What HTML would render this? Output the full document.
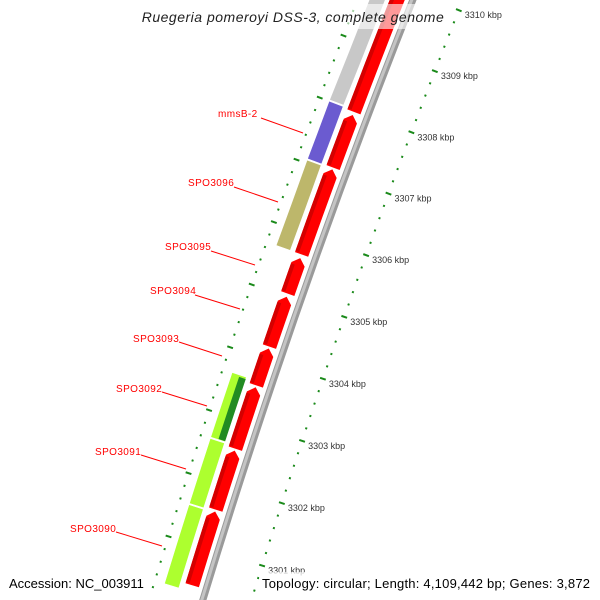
<!DOCTYPE html>
<html><head><meta charset="utf-8"><style>
html,body{margin:0;padding:0;background:#fff;width:600px;height:600px;overflow:hidden;}
svg{display:block;overflow:hidden;}
</style></head><body>
<svg id="map" width="600" height="600" viewBox="0 0 600 600" xmlns="http://www.w3.org/2000/svg">
<defs><clipPath id="frame"><rect x="0" y="0" width="600" height="600"/></clipPath></defs>
<rect x="0" y="0" width="600" height="600" fill="#fff"/>
<g id="rings" clip-path="url(#frame)"></g>
<g id="labels" font-family="Liberation Sans, sans-serif" font-size="10" fill="#f00" letter-spacing="0.4">
<line x1="261" y1="118" x2="303" y2="133" stroke="#f00"/>
<text x="218" y="117">mmsB-2</text>
<line x1="234" y1="187" x2="278" y2="202" stroke="#f00"/>
<text x="188" y="186">SPO3096</text>
<line x1="211" y1="251" x2="255" y2="265" stroke="#f00"/>
<text x="165" y="250">SPO3095</text>
<line x1="195" y1="295" x2="240" y2="309" stroke="#f00"/>
<text x="150" y="294">SPO3094</text>
<line x1="179" y1="342" x2="222" y2="356" stroke="#f00"/>
<text x="133" y="342">SPO3093</text>
<line x1="162" y1="392" x2="207" y2="406" stroke="#f00"/>
<text x="116" y="392">SPO3092</text>
<line x1="141" y1="455" x2="186" y2="469" stroke="#f00"/>
<text x="95" y="455">SPO3091</text>
<line x1="116" y1="532" x2="162" y2="546" stroke="#f00"/>
<text x="70" y="532">SPO3090</text>
</g>
<rect x="142" y="4" width="303" height="25" fill="#fff" fill-opacity="0.6"/>
<text x="293" y="22" text-anchor="middle" font-family="Liberation Sans, sans-serif" font-size="14" font-style="italic" fill="#222" letter-spacing="0.5">Ruegeria pomeroyi DSS-3, complete genome</text>
<rect x="6" y="572" width="142" height="20" fill="#fff" fill-opacity="0.7"/>
<text x="9" y="588" font-family="Liberation Sans, sans-serif" font-size="13" fill="#000">Accession: NC_003911</text>
<rect x="259" y="572" width="335" height="20" fill="#fff" fill-opacity="0.7"/>
<text x="262" y="588" font-family="Liberation Sans, sans-serif" font-size="13" fill="#000" textLength="328">Topology: circular; Length: 4,109,442 bp; Genes: 3,872</text>
</svg>
<script>
// data (kbp)
const redStarts = [3307.98, 3307.08, 3305.68, 3305.05, 3304.20, 3303.58, 3302.57, 3301.60, 3300.40];
const redEnds   = [3310.60, 3307.93, 3307.05, 3305.62, 3305.00, 3304.17, 3303.55, 3302.54, 3301.57];
const featStarts = [3308.02, 3307.07, 3305.68, 3303.65, 3302.60, 3301.55, 3300.30];
const featEnds   = [3310.60, 3308.00, 3307.05, 3302.62, 3301.57, 3300.30];
const featKinds  = ['other', 'mmsB-2', 'SPO3096', 'SPO3092', 'SPO3091', 'SPO3090'];
const featColors = ['#c8c8c8', '#6b5bd0', '#bdb76b', '#adff2f', '#adff2f', '#adff2f'];
const darkStart = [3302.63];
const darkEnd = [3303.62];
const tickLabels = ['3301 kbp','3302 kbp','3303 kbp','3304 kbp','3305 kbp','3306 kbp','3307 kbp','3308 kbp','3309 kbp','3310 kbp'];
const tickValues = [3301,3302,3303,3304,3305,3306,3307,3308,3309,3310];

const NS='http://www.w3.org/2000/svg';
const CX=7569, CY=2841;
function ang(k){return -2.8397+(k-3301)*0.008556;}
function pt(k,r){const a=ang(k);return [CX+r*Math.cos(a), CY+r*Math.sin(a)];}
function f(p){return p[0].toFixed(2)+' '+p[1].toFixed(2);}
const g=document.getElementById('rings');
function band(s,e,r1,r2){
  return 'M'+f(pt(s,r2))+' A'+r2+' '+r2+' 0 0 1 '+f(pt(e,r2))+' L'+f(pt(e,r1))+' A'+r1+' '+r1+' 0 0 0 '+f(pt(s,r1))+' Z';
}
function arrow(s,e,r1,r2){
  const h=0.1, m=e-h;
  return 'M'+f(pt(s,r2))+' A'+r2+' '+r2+' 0 0 1 '+f(pt(m,r2))+' L'+f(pt(e,(r1+r2)/2))+' L'+f(pt(m,r1))+' A'+r1+' '+r1+' 0 0 0 '+f(pt(s,r1))+' Z';
}
function add(tag,attrs){const el=document.createElementNS(NS,tag);for(const k in attrs)el.setAttribute(k,attrs[k]);g.appendChild(el);return el;}

// backbone
let bb=add('path',{d:band(3300.2,3310.8,7696,7703),fill:'#9a9a9a'});


let bb2=add('path',{d:band(3300.2,3310.8,7699,7702),fill:'#c4c4c4'});



// red genes
for(let i=0;i<redStarts.length;i++){
  const p=add('path',{d:arrow(redStarts[i],redEnds[i],7707,7721),fill:'#ff0000'});
  
  
  const s=add('path',{d:band(redStarts[i]+0.02,redEnds[i]-0.12,7717,7721),fill:'#d40000'});
  
  
}
// feature band
for(let i=0;i<featKinds.length;i++){
  const p=add('path',{d:band(featEnds[i],featStarts[i],7726,7741),fill:featColors[i],stroke:'#fff','stroke-width':'0.6'});
  
  
}
for(let i=0;i<darkStart.length;i++){
  const p=add('path',{d:band(darkStart[i],darkEnd[i],7726,7733),fill:'#228b22'});
  
  
}
// rulers
for(let t=3300.2;t<=3310.81;t+=0.2){
  const k=Math.round(t*5)/5;
  const major=Math.abs(k-Math.round(k))<0.01;
  [[7653,'right'],[7751,'left']].forEach(([r,side])=>{
    const len=major?3:1;
    const a=pt(k,r-len), b=pt(k,r+len);
    const l=add('line',{x1:a[0],y1:a[1],x2:b[0],y2:b[1],stroke:'#1a8a1a','stroke-width':2});
    
    
  });
}
for(let i=0;i<tickValues.length;i++){
  const p=pt(tickValues[i],7653);
  const t=add('text',{x:p[0]+6,y:p[1]+8,'font-family':'Liberation Sans, sans-serif','font-size':'9',fill:'#333'});
  t.textContent=tickLabels[i];
  
  
}
</script>
</body></html>
